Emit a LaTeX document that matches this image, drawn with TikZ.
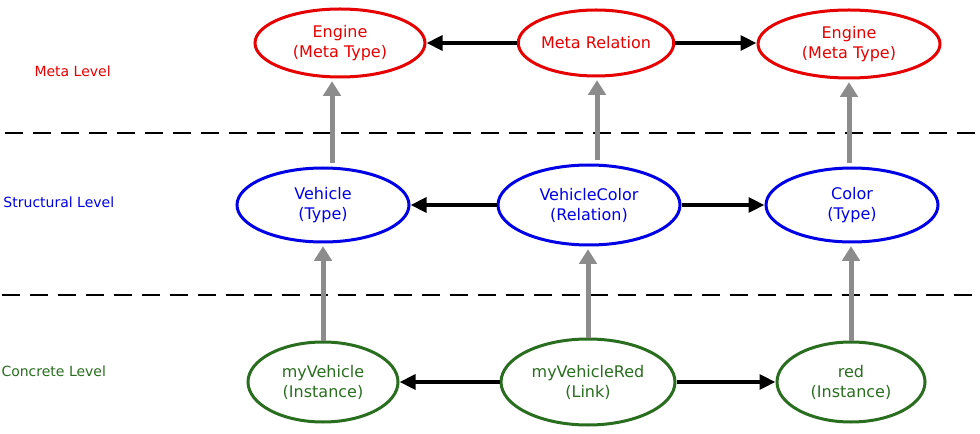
\documentclass[tikz,border=0pt]{standalone}
\usepackage{fontspec}
\setmainfont{DejaVu Sans}
\usetikzlibrary{shapes.geometric,arrows.meta}
\definecolor{metared}{RGB}{230,0,0}
\definecolor{structblue}{RGB}{0,0,230}
\definecolor{concgreen}{RGB}{40,110,30}
\tikzset{every picture/.style={line width=0.75pt}}
\tikzset{
  lvl/.style={ellipse,draw,line width=2.25pt,inner sep=0pt,align=center,font=\fontsize{12}{15}\selectfont},
  metanode/.style={lvl,metared,text=metared},
  structnode/.style={lvl,structblue,text=structblue},
  concnode/.style={lvl,concgreen,text=concgreen},
  relarrow/.style={line width=3pt,-{Triangle[length=12pt,width=11pt]}},
  instarrow/.style={gray!90,line width=3.75pt,-{Triangle[length=11pt,width=13pt]},shorten >=2pt},
  levellabel/.style={font=\fontsize{10.5}{12}\selectfont,anchor=west,inner sep=0.75pt}
}
\begin{document}
\begin{tikzpicture}[x=0.75pt,y=0.75pt,yscale=-1,xscale=1]
	\useasboundingbox (0,0) rectangle (980,434);

	% Meta level
	\node [metanode,minimum width=127.5pt,minimum height=51pt] (engL) at (340,43) {Engine\\(Meta Type)};
	\node [metanode,minimum width=105pt,minimum height=49.5pt] (metaRel) at (596,43) {Meta Relation};
	\node [metanode,minimum width=136.5pt,minimum height=51pt] (engR) at (849,44) {Engine\\(Meta Type)};
	% Structural level
	\node [structnode,minimum width=129pt,minimum height=55.5pt] (vehicle) at (323,205) {Vehicle\\(Type)};
	\node [structnode,minimum width=136.5pt,minimum height=60pt] (vehColor) at (589,205) {VehicleColor\\(Relation)};
	\node [structnode,minimum width=129pt,minimum height=55.5pt] (color) at (852,205) {Color\\(Type)};
	% Concrete level
	\node [concnode,minimum width=112.5pt,minimum height=60pt] (myVeh) at (323,382) {myVehicle\\(Instance)};
	\node [concnode,minimum width=130.5pt,minimum height=64.5pt] (myVehRed) at (588,382) {myVehicleRed\\(Link)};
	\node [concnode,minimum width=111pt,minimum height=60pt] (red) at (851,382) {red\\(Instance)};

	% Level separators
	\draw [dash pattern={on 13.5pt off 7.5pt},line width=1.1pt] (5,133) -- (975,133);
	\draw [dash pattern={on 13.5pt off 7.5pt},line width=1.1pt] (2,295) -- (978,295);

	% Level labels
	\node [levellabel,text=metared] (lblMeta) at (33,71) {Meta Level};
	\node [levellabel,text=structblue] (lblStruct) at (2,202) {Structural Level};
	\node [levellabel,text=concgreen] (lblConc) at (0,371) {Concrete Level};

	% Relation arrows
	\draw [relarrow] (metaRel.west) -- (engL.east |- metaRel.west);
	\draw [relarrow] (metaRel.east) -- (engR.west |- metaRel.east);
	\draw [relarrow] (vehColor.west) -- (vehicle.east);
	\draw [relarrow] (vehColor.east) -- (color.west);
	\draw [relarrow] (myVehRed.west) -- (myVeh.east);
	\draw [relarrow] (myVehRed.east) -- (red.west);

	% Instance-of arrows
	\draw [instarrow] (vehicle.north) ++(9,-3) coordinate (v0) -- (v0 |- engL.south);
	\draw [instarrow] (vehColor.north) ++(8,-3) coordinate (c0) -- (c0 |- metaRel.south);
	\draw [instarrow] (color.north) ++(-3,-3) coordinate (k0) -- (k0 |- engR.south);
	\draw [instarrow] (myVeh.north) -- (vehicle.south);
	\draw [instarrow] (myVehRed.north) -- (myVehRed.north |- vehColor.south);
	\draw [instarrow] (red.north) -- (red.north |- color.south);
\end{tikzpicture}
\end{document}
